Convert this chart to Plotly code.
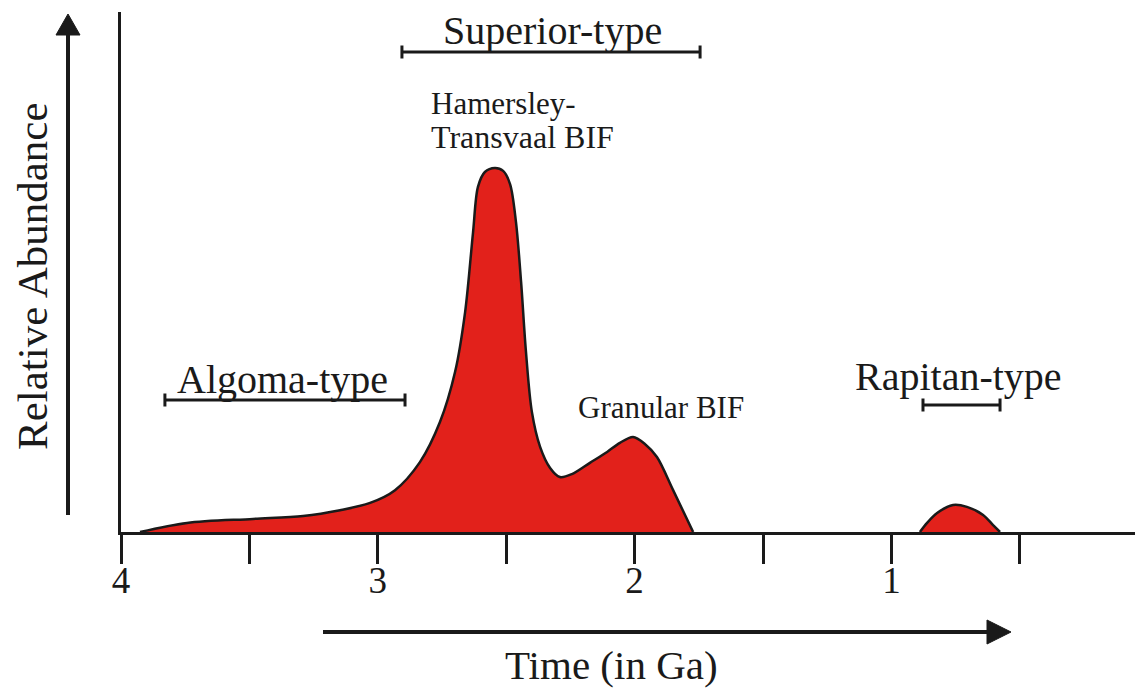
import plotly.graph_objects as go

# ---------------- data ----------------
# Main BIF abundance curve (age in Ga, relative abundance in % of max)
age_ga = [3.926, 3.743, 3.486, 3.291, 3.147, 3.030, 2.933, 2.836, 2.758, 2.699,
          2.660, 2.629, 2.610, 2.583, 2.544, 2.512, 2.485, 2.462, 2.442, 2.423,
          2.400, 2.368, 2.329, 2.291, 2.244, 2.174, 2.107, 2.057, 2.006, 1.960,
          1.913, 1.850, 1.772]
abundance = [0, 2.5, 3.6, 4.4, 6.0, 8.0, 11.5, 19.2, 30.2, 44.0,
             60.4, 82.4, 94.8, 98.9, 100.0, 99.2, 95.6, 85.2, 68.7, 49.5,
             33.0, 23.4, 17.6, 15.1, 15.9, 19.0, 22.0, 24.5, 26.1, 24.2,
             20.6, 11.5, 0]

# Rapitan-type bump
rap_age = [0.889, 0.861, 0.822, 0.760, 0.706, 0.643, 0.604, 0.577]
rap_abund = [0, 2.5, 5.2, 7.4, 6.9, 4.7, 1.9, 0]

# Age ranges of BIF types (Ga)
type_names = ["Algoma-type", "Superior-type", "Rapitan-type"]
type_start = [3.829, 2.906, 0.877]
type_end = [2.894, 1.745, 0.577]

# Axis ticks
tick_vals = [4, 3.5, 3, 2.5, 2, 1.5, 1, 0.5]
tick_text = ["4", "", "3", "", "2", "", "1", ""]

# ---------------- layout helpers ----------------
OFF = 8                      # default page (body) margin of the html page
W, H = 1143 - OFF, 689 - OFF
L, R, T, B = 113, 0, 4, 157
PW, PH = W - L - R, H - T - B
X_RANGE = [4, 4 - PW / 256.8]
Y_RANGE = [0, PH / 3.64]

def px_x(px):   # page pixel -> paper x
    return (px - OFF - L) / PW

def px_y(py):   # page pixel -> paper y
    return (H - B - (py - OFF)) / PH

FONT = "Liberation Serif, Times New Roman, serif"
RED = "#e2211b"
INK = "#1a1a1a"

fig = go.Figure()
fig.add_trace(go.Scatter(
    x=age_ga, y=abundance, mode="lines", fill="tozeroy",
    fillcolor=RED, line=dict(color=INK, width=2.5, shape="spline", smoothing=0.9),
    hoverinfo="skip", showlegend=False))
fig.add_trace(go.Scatter(
    x=rap_age, y=rap_abund, mode="lines", fill="tozeroy",
    fillcolor=RED, line=dict(color=INK, width=2.5, shape="spline", smoothing=0.9),
    hoverinfo="skip", showlegend=False))

shapes = []
annos = []

def text(t, x, y, size, xanchor="center"):
    annos.append(dict(text=t, xref="paper", yref="paper", x=px_x(x), y=px_y(y),
                      xanchor=xanchor, yanchor="middle", showarrow=False,
                      font=dict(family=FONT, size=size, color=INK)))

# range bars with end caps
bar_y_px = [400, 52, 405]
label_pos = [(282, 380), (552, 31), (958, 376)]
for name, s, e, by, (lx, ly) in zip(type_names, type_start, type_end, bar_y_px, label_pos):
    yb = px_y(by)
    cap = 6.5 / PH
    shapes.append(dict(type="line", xref="x", yref="paper", x0=s, x1=e, y0=yb, y1=yb,
                       line=dict(color=INK, width=3)))
    for xx in (s, e):
        shapes.append(dict(type="line", xref="x", yref="paper", x0=xx, x1=xx,
                           y0=yb - cap, y1=yb + cap, line=dict(color=INK, width=3)))
    text(name, lx, ly, 40)

text("Hamersley-", 429, 103, 31, xanchor="left")
text("Transvaal BIF", 429, 137, 32, xanchor="left")
text("Granular BIF", 576, 407, 31, xanchor="left")
text("Time (in Ga)", 611, 665, 41)
annos.append(dict(text="Relative Abundance", xref="paper", yref="paper",
                  x=px_x(32), y=px_y(277), xanchor="center", yanchor="middle",
                  textangle=-90, showarrow=False,
                  font=dict(family=FONT, size=43, color=INK)))

# vertical arrow (left)
shapes.append(dict(type="line", xref="paper", yref="paper", x0=px_x(68), x1=px_x(68),
                   y0=px_y(515), y1=px_y(30), line=dict(color=INK, width=4)))
shapes.append(dict(type="path", xref="paper", yref="paper",
                   path=f"M {px_x(56)} {px_y(35)} L {px_x(68)} {px_y(14)} L {px_x(80)} {px_y(35)} Z",
                   fillcolor=INK, line=dict(color=INK, width=1)))
# horizontal arrow (bottom)
shapes.append(dict(type="line", xref="paper", yref="paper", x0=px_x(323), x1=px_x(992),
                   y0=px_y(632), y1=px_y(632), line=dict(color=INK, width=4)))
shapes.append(dict(type="path", xref="paper", yref="paper",
                   path=f"M {px_x(987)} {px_y(620)} L {px_x(1011)} {px_y(632)} L {px_x(987)} {px_y(644)} Z",
                   fillcolor=INK, line=dict(color=INK, width=1)))

fig.update_layout(
    width=W, height=H, margin=dict(l=L, r=R, t=T, b=B, pad=0, autoexpand=False),
    paper_bgcolor="white", plot_bgcolor="white",
    shapes=shapes, annotations=annos, showlegend=False,
    xaxis=dict(range=X_RANGE, showgrid=False, zeroline=False, showline=True,
               linecolor=INK, linewidth=3, ticks="outside", ticklen=29, tickwidth=3,
               tickcolor=INK, tickvals=tick_vals, ticktext=tick_text,
               ticklabelstandoff=-15, automargin=False,
               tickfont=dict(family=FONT, size=37, color=INK), fixedrange=True),
    yaxis=dict(range=Y_RANGE, showgrid=False, zeroline=False, showline=True,
               linecolor=INK, linewidth=3, showticklabels=False, ticks="",
               automargin=False, fixedrange=True),
)

fig.write_html("out.html")
